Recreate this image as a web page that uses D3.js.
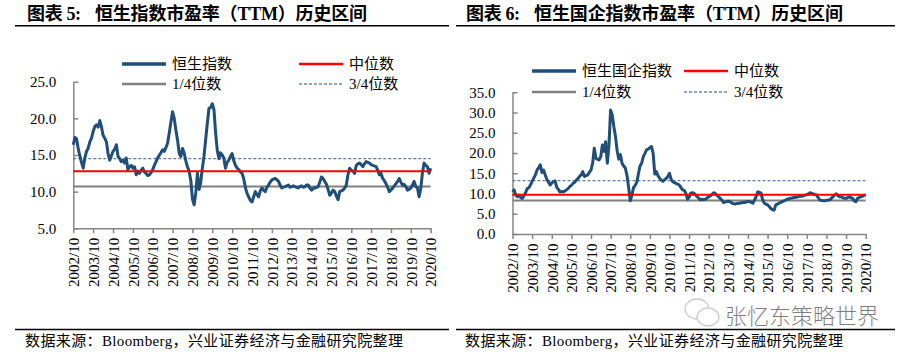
<!DOCTYPE html>
<html><head><meta charset="utf-8">
<script src="https://cdn.jsdelivr.net/npm/d3@7"></script>
<style>
html,body{margin:0;padding:0;background:#fff;}
svg{display:block;}
text{font-family:"Liberation Serif","Noto Sans CJK SC",serif;fill:#000;}
</style></head>
<body>
<svg id="c" width="907" height="356"></svg>
<script>
// ---------- DATA ----------
const startMonth = [2002, 10];
const tickLabels = ["2002/10","2003/10","2004/10","2005/10","2006/10","2007/10","2008/10","2009/10","2010/10","2011/10","2012/10","2013/10","2014/10","2015/10","2016/10","2017/10","2018/10","2019/10","2020/10"];

// 恒生指数 PE(TTM), monthly from 2002/10 to 2020/10
const hsiPE = [
16.4,17.4,17.2,15.8,14.8,14.0,13.2,14.6,15.5,15.9,16.8,17.3,18.2,18.9,19.1,18.8,19.7,18.9,17.7,17.3,
16.8,15.2,14.3,14.9,15.5,15.8,16.4,14.8,14.5,14.1,14.3,13.9,14.6,13.0,13.4,13.6,13.2,13.4,12.3,12.8,
12.5,12.9,13.2,12.7,12.5,12.2,12.3,12.6,13.0,13.6,14.1,14.6,15.0,15.3,15.7,15.5,16.0,16.6,18.0,19.5,
20.9,20.0,18.4,17.0,15.2,14.8,15.9,15.3,14.2,13.4,12.8,11.5,9.0,8.2,9.8,12.5,10.3,11.2,13.2,14.8,
17.1,19.3,21.4,21.5,22.0,21.2,18.0,15.6,14.5,15.3,15.0,14.6,13.2,14.0,14.3,14.8,15.2,14.2,13.6,13.2,
13.0,12.7,12.5,11.8,10.6,9.8,9.3,8.8,8.6,9.3,10.0,9.6,9.3,10.1,10.5,10.2,10.0,10.6,10.9,11.3,
11.6,11.7,11.8,11.6,11.4,10.9,10.5,10.6,10.7,10.8,10.9,10.6,10.7,10.8,10.7,10.6,10.5,10.7,10.8,10.6,
10.7,10.9,10.9,10.5,10.2,10.4,10.5,10.6,10.7,11.3,12.0,11.8,11.4,11.0,10.3,9.5,9.8,10.2,10.0,9.4,
8.9,10.0,10.1,10.2,10.5,10.9,12.3,13.2,12.9,12.8,12.5,13.6,13.8,13.9,13.7,13.4,13.8,14.1,14.0,13.9,
13.7,13.6,13.5,13.4,12.9,12.3,12.5,11.8,11.5,11.1,10.6,10.0,10.2,10.5,10.8,11.1,11.4,11.8,11.3,10.9,
11.0,10.7,10.2,10.3,10.5,10.9,11.4,10.7,10.5,9.3,10.4,12.5,13.9,13.6,13.4,12.5,13.2
];
const hsiQuantiles = {q1: 10.7, median: 12.8, q3: 14.5};

// 恒生国企指数 PE(TTM), monthly from 2002/10 to 2020/10
const hsceiPE = [
10.4,10.9,9.6,9.2,9.6,9.0,8.8,9.4,10.2,11.2,11.4,12.1,13.0,13.8,14.6,15.8,16.4,17.1,15.2,15.8,
14.6,13.5,12.8,12.1,12.6,13.0,13.1,11.6,11.0,10.4,10.5,10.4,10.6,10.9,11.2,11.7,12.0,12.5,12.8,13.3,
13.7,14.2,14.6,15.4,14.2,14.4,14.6,15.2,15.8,17.5,21.2,18.7,18.5,18.3,19.1,22.0,20.4,22.8,17.5,22.0,
30.6,29.4,26.5,24.0,20.5,18.5,19.6,17.5,16.8,16.3,14.5,11.5,8.2,9.6,11.5,12.0,12.8,14.8,16.8,17.5,
19.1,19.9,20.8,21.0,21.3,21.6,19.9,14.8,15.4,14.4,13.8,13.3,13.0,13.4,13.7,14.2,15.0,13.5,12.9,12.7,
12.5,12.3,12.1,11.5,10.9,10.8,10.1,8.6,9.0,10.1,10.2,10.1,9.6,9.2,8.8,8.4,8.6,8.5,8.6,8.9,
9.2,9.4,9.8,10.2,10.0,9.6,9.2,8.8,8.4,7.8,7.9,8.0,8.1,8.0,7.7,7.5,7.4,7.5,7.6,7.6,
7.7,7.8,7.8,7.9,8.0,8.0,7.8,7.6,8.4,9.2,10.4,10.3,10.1,8.5,7.6,7.4,7.2,6.8,6.3,6.0,
5.9,7.2,7.4,7.6,7.8,8.0,8.2,8.4,8.6,8.7,8.8,8.9,9.0,9.0,9.1,9.2,9.4,9.3,9.5,9.6,
9.7,9.9,10.2,10.0,9.9,9.8,9.6,9.0,8.4,8.3,8.2,8.2,8.3,8.4,8.4,8.8,9.2,9.6,9.9,9.5,
9.2,9.2,9.0,8.8,8.8,9.0,9.2,9.0,8.8,8.2,8.0,8.8,9.0,9.2,9.3,9.6,9.5
];
const hsceiQuantiles = {q1: 8.3, median: 9.7, q3: 13.2};

const leftYTicks = [5, 10, 15, 20, 25];
const rightYTicks = [0, 5, 10, 15, 20, 25, 30, 35];

const titlePrefixes = ["图表 5:", "图表 6:"];
const titles = ["恒生指数市盈率（TTM）历史区间", "恒生国企指数市盈率（TTM）历史区间"];
const seriesNames = ["恒生指数", "恒生国企指数"];
const legendNames = {median: "中位数", q1: "1/4位数", q3: "3/4位数"};
const sourceText = "数据来源：Bloomberg，兴业证券经济与金融研究院整理";
const watermark = "张忆东策略世界";

// ---------- DRAW ----------
const svg = d3.select("#c");
const BLUE = "#1f4e79", RED = "#ff0000", GREY = "#808080", AXIS = "#868686";
const dateOf = i => new Date(startMonth[0], startMonth[1] - 1 + i, 1);
const tickDates = tickLabels.map(s => { const [y, m] = s.split("/").map(Number); return new Date(y, m - 1, 1); });

function panel(cfg) {
  const g = svg.append("g");
  // title and rules
  g.append("text").attr("x", cfg.titleX).attr("y", 20).attr("font-size", 18).attr("font-weight", "bold")
    .attr("textLength", 54).attr("lengthAdjust", "spacing").text(cfg.prefix);
  g.append("text").attr("x", cfg.titleX + 68).attr("y", 20).attr("font-size", 18).attr("font-weight", "bold")
    .attr("textLength", cfg.titleLen).attr("lengthAdjust", "spacing").text(cfg.title);
  g.append("line").attr("x1", cfg.ruleX1).attr("x2", cfg.ruleX2).attr("y1", 25.7).attr("y2", 25.7)
    .attr("stroke", "#000").attr("stroke-width", 1.5);
  g.append("line").attr("x1", cfg.ruleX1).attr("x2", cfg.ruleX2).attr("y1", 329.5).attr("y2", 329.5)
    .attr("stroke", "#000").attr("stroke-width", 1.5);
  g.append("text").attr("x", cfg.sourceX).attr("y", 346).attr("font-size", 15)
    .attr("textLength", 378).attr("lengthAdjust", "spacing").text(sourceText);

  const x = d3.scaleTime().domain([tickDates[0], tickDates[tickDates.length - 1]]).range([cfg.x0, cfg.x1]);
  const y = d3.scaleLinear().domain(cfg.yDomain).range([cfg.yBottom, cfg.yTop]);

  // y axis
  const ya = g.append("g").attr("transform", `translate(${cfg.x0},0)`)
    .call(d3.axisLeft(y).tickValues(cfg.yTicks).tickFormat(d3.format(".1f")).tickSizeInner(-5).tickSizeOuter(0).tickPadding(17));
  ya.select(".domain").attr("stroke", AXIS).attr("stroke-width", 1.5);
  ya.selectAll(".tick line").attr("stroke", AXIS).attr("stroke-width", 1.5);
  ya.selectAll(".tick text").attr("font-size", 15).attr("font-family", "Liberation Serif").attr("fill", "#000");

  // x axis
  const xa = g.append("g").attr("transform", `translate(0,${cfg.yBottom})`)
    .call(d3.axisBottom(x).tickValues(tickDates).tickFormat((d, i) => tickLabels[i]).tickSizeInner(5).tickSizeOuter(0));
  xa.select(".domain").attr("stroke", AXIS).attr("stroke-width", 1.5);
  xa.selectAll(".tick line").attr("stroke", AXIS).attr("stroke-width", 1.5);
  xa.selectAll(".tick text").attr("font-size", 15).attr("font-family", "Liberation Serif").attr("fill", "#000")
    .attr("transform", "rotate(-90)").attr("text-anchor", "end").attr("dy", "0.35em").attr("x", -9.5).attr("y", 0);

  const lo = tickDates[0], hi = tickDates[tickDates.length - 1];
  // quantile lines
  g.append("line").attr("x1", x(lo)).attr("x2", x(hi)).attr("y1", y(cfg.q.q3)).attr("y2", y(cfg.q.q3))
    .attr("stroke", "#3e5f8a").attr("stroke-width", 1.2).attr("stroke-dasharray", "3,2").attr("opacity", 0.8);
  g.append("line").attr("x1", x(lo)).attr("x2", x(hi)).attr("y1", y(cfg.q.q1)).attr("y2", y(cfg.q.q1))
    .attr("stroke", GREY).attr("stroke-width", 2);

  // series
  const line = d3.line().x((d, i) => x(dateOf(i))).y(d => y(d));
  g.append("path").datum(cfg.values).attr("d", line).attr("fill", "none")
    .attr("stroke", BLUE).attr("stroke-width", 3).attr("stroke-linejoin", "round");

  g.append("line").attr("x1", x(lo)).attr("x2", x(hi)).attr("y1", y(cfg.q.median)).attr("y2", y(cfg.q.median))
    .attr("stroke", RED).attr("stroke-width", 2);

  // legend
  const L = cfg.legend;
  const items = [
    {x: L.c1, y: L.r1, name: cfg.name, stroke: BLUE, w: 3.5},
    {x: L.c2, y: L.r1, name: legendNames.median, stroke: RED, w: 2.5},
    {x: L.c1, y: L.r2, name: legendNames.q1, stroke: GREY, w: 2.5},
    {x: L.c2, y: L.r2, name: legendNames.q3, stroke: BLUE, w: 1.2, dash: "3,2"}
  ];
  items.forEach(it => {
    g.append("line").attr("x1", it.x).attr("x2", it.x + L.len).attr("y1", it.y).attr("y2", it.y)
      .attr("stroke", it.stroke).attr("stroke-width", it.w).attr("stroke-dasharray", it.dash || null);
    g.append("text").attr("x", it.x + L.len + 6).attr("y", it.y).attr("dy", "0.36em")
      .attr("font-size", 15).text(it.name);
  });
}

panel({
  prefix: titlePrefixes[0], title: titles[0], titleX: 27, titleLen: 272, ruleX1: 15, ruleX2: 449, sourceX: 25,
  x0: 73.3, x1: 430.7, yTop: 81.7, yBottom: 228.3, yDomain: [5, 25], yTicks: leftYTicks,
  values: hsiPE, q: hsiQuantiles, name: seriesNames[0],
  legend: {c1: 122, c2: 299, r1: 64, r2: 84, len: 44}
});
panel({
  prefix: titlePrefixes[1], title: titles[1], titleX: 466, titleLen: 309, ruleX1: 456, ruleX2: 895, sourceX: 465,
  x0: 512.5, x1: 865.7, yTop: 92.3, yBottom: 234, yDomain: [0, 35], yTicks: rightYTicks,
  values: hsceiPE, q: hsceiQuantiles, name: seriesNames[1],
  legend: {c1: 532, c2: 684, r1: 71, r2: 92, len: 44}
});

// watermark
const wm = svg.append("g").attr("opacity", 0.5);
wm.append("ellipse").attr("cx", 697).attr("cy", 309).attr("rx", 12).attr("ry", 10).attr("fill", "#fff").attr("stroke", "#999").attr("stroke-width", 1.3);
wm.append("ellipse").attr("cx", 708).attr("cy", 317).attr("rx", 11).attr("ry", 9).attr("fill", "#fff").attr("stroke", "#999").attr("stroke-width", 1.3);
wm.append("text").attr("x", 725).attr("y", 324).attr("font-size", 22).attr("font-family", "Noto Sans CJK SC")
  .attr("fill", "#888").attr("font-weight", 300).text(watermark);
</script>
</body></html>
